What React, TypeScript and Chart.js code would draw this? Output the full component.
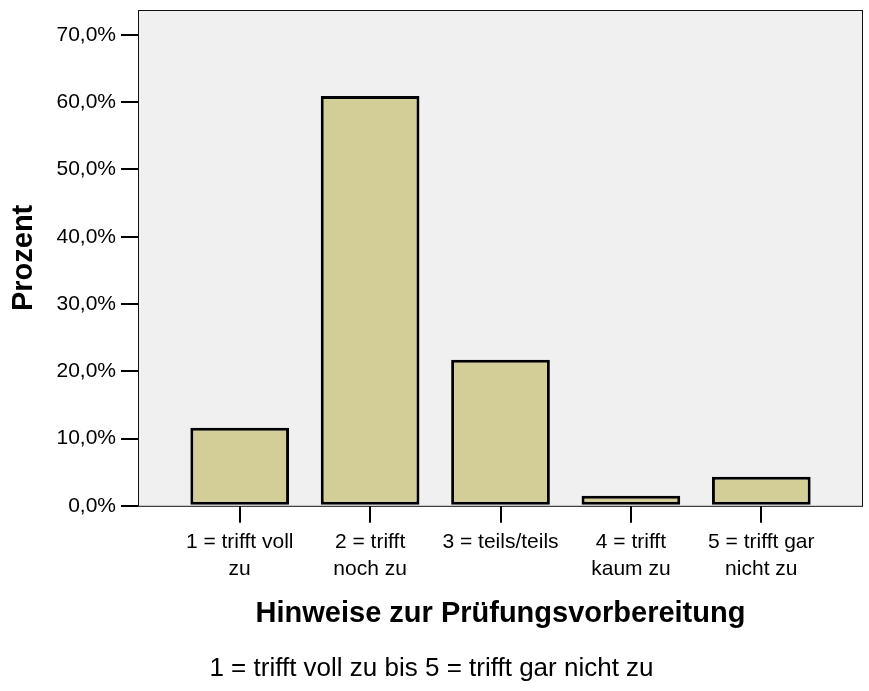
import React, { useEffect, useRef } from "react";
import { Chart, registerables } from "chart.js";

Chart.register(...registerables);

const categories: string[][] = [
  ["1 = trifft voll", "zu"],
  ["2 = trifft", "noch zu"],
  ["3 = teils/teils"],
  ["4 = trifft", "kaum zu"],
  ["5 = trifft gar", "nicht zu"],
];
const percentValues: number[] = [11.6, 60.9, 21.7, 1.5, 4.3];
const yTickValues: number[] = [0, 10, 20, 30, 40, 50, 60, 70];
const xAxisTitle = "Hinweise zur Prüfungsvorbereitung";
const yAxisTitle = "Prozent";
const footnote = "1 = trifft voll zu bis 5 = trifft gar nicht zu";

const FONT = "'Liberation Sans', Arial, Helvetica, sans-serif";

const plotFrame = {
  id: "plotFrame",
  beforeDraw(chart: any) {
    const { ctx, chartArea } = chart;
    ctx.save();
    ctx.fillStyle = "#f0f0f0";
    ctx.fillRect(chartArea.left, chartArea.top, chartArea.right - chartArea.left, chartArea.bottom - chartArea.top);
    ctx.restore();
  },
  afterDatasetsDraw(chart: any) {
    const { ctx, chartArea } = chart;
    ctx.save();
    ctx.strokeStyle = "#111";
    ctx.lineWidth = 1;
    ctx.strokeRect(chartArea.left + 0.5, chartArea.top + 0.5, chartArea.right - chartArea.left - 1, chartArea.bottom - chartArea.top);
    ctx.restore();
  },
};

export default function App() {
  const canvasRef = useRef<HTMLCanvasElement | null>(null);

  useEffect(() => {
    if (!canvasRef.current) return;
    Chart.defaults.font.family = FONT;
    Chart.defaults.color = "#000";
    const chart = new Chart(canvasRef.current, {
      type: "bar",
      data: {
        datasets: [
          {
            data: percentValues.map((v, i) => ({ x: i, y: v })),
            backgroundColor: "#d3ce97",
            borderColor: "#000",
            borderWidth: 3,
            borderSkipped: false,
            barPercentage: 0.757,
            categoryPercentage: 1,
          },
        ],
      },
      options: {
        animation: false,
        responsive: false,
        maintainAspectRatio: false,
        layout: { padding: { left: 0, top: 10, right: 6, bottom: 0 } },
        plugins: {
          legend: { display: false },
          tooltip: { enabled: false },
          subtitle: {
            display: true,
            position: "bottom",
            fullSize: true,
            text: footnote,
            color: "#000",
            font: { size: 26, weight: "normal", lineHeight: 1.2 },
            padding: { top: 22, bottom: 6.4 },
          },
        },
        scales: {
          x: {
            type: "linear",
            offset: false,
            min: -0.78,
            max: 4.78,
            afterBuildTicks: (scale: any) => {
              scale.ticks = categories.map((_, i) => ({ value: i }));
            },
            afterFit: (scale: any) => {
              scale.height = 125.6;
              scale.paddingLeft = 0;
              scale.paddingRight = 0;
            },
            ticks: {
              callback: (value: any) => categories[value as number] ?? "",
              font: { size: 21, lineHeight: 1.29 },
              color: "#000",
              padding: 6,
              maxRotation: 0,
              autoSkip: false,
            },
            grid: {
              offset: false,
              drawOnChartArea: false,
              drawTicks: true,
              tickLength: 17,
              color: "#000",
              lineWidth: 2,
            },
            border: { display: false },
            title: {
              display: true,
              text: xAxisTitle,
              font: { size: 29, weight: "bold" },
              color: "#000",
              padding: { top: 0, bottom: 0 },
            },
          },
          y: {
            type: "linear",
            min: 0,
            max: 73.7,
            afterBuildTicks: (scale: any) => {
              scale.ticks = yTickValues.map((v) => ({ value: v }));
            },
            afterFit: (scale: any) => {
              scale.width = 138;
              scale.paddingTop = 0;
              scale.paddingBottom = 0;
            },
            ticks: {
              callback: (value: any) => (value as number).toFixed(1).replace(".", ",") + "%",
              font: { size: 21 },
              color: "#000",
              padding: 5,
            },
            grid: {
              drawOnChartArea: false,
              drawTicks: true,
              tickLength: 17,
              color: "#000",
              lineWidth: 2,
            },
            border: { display: false },
            title: {
              display: true,
              text: yAxisTitle,
              font: { size: 29, weight: "bold" },
              color: "#000",
              padding: { top: 7, bottom: 0 },
            },
          },
        },
      },
      plugins: [plotFrame],
    });
    return () => chart.destroy();
  }, []);

  return (
    <div style={{ position: "absolute", left: 0, top: 0, width: 869, height: 691 }}>
      <canvas ref={canvasRef} width={869} height={691} style={{ width: 869, height: 691 }} />
    </div>
  );
}
